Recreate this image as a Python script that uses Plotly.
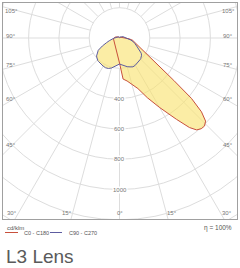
import numpy as np
import plotly.graph_objects as go

# ---------------- data (cd/klm) ----------------
gamma = [0, 3, 5, 10, 15, 20, 25, 30, 35, 38, 40, 42, 44, 46, 48, 50, 52, 55,
         60, 65, 70, 75, 80, 85, 90, 100, 110, 120, 135, 150, 165, 180]
c0 = [165, 220, 272, 288, 315, 355, 435, 530, 655, 750, 792, 806, 808, 790, 728, 620, 455, 315,
      205, 157, 127, 105, 88, 65, 40, 28, 18, 10, 4, 0, 0, 0]
c180 = [165, 142, 128, 100, 85, 72, 64, 58, 53, 51, 50, 49, 48, 47, 46, 45, 44, 43,
        42, 41, 40, 40, 40, 40, 38, 30, 22, 15, 8, 2, 0, 0]
c90 = [172, 175, 178, 188, 196, 203, 210, 208, 204, 202, 200, 199, 197, 195, 193, 190, 185, 175,
       150, 125, 108, 94, 75, 55, 42, 34, 25, 16, 8, 3, 0, 0]
c270 = [172, 176, 180, 192, 205, 214, 217, 215, 212, 210, 209, 208, 207, 205, 200, 196, 192, 184,
        162, 125, 92, 70, 55, 42, 32, 24, 18, 14, 11, 5, 1, 0]

ring_values = [200, 400, 600, 800, 1000, 1200, 1400]
ring_labels = [400, 600, 800, 1000]
spoke_angles = list(range(0, 181, 15))
side_labels = [105, 90, 75, 60, 45]
bottom_labels = [30, 15, 0]
title = "L3 Lens"
legend_names = ["C0 - C180", "C90 - C270"]

# ---------------- geometry helpers ----------------
W, H = 240, 268
ML, MR, MT, MB = 3, 3, 3, 49
PX0, PX1, PY0, PY1 = ML, W - MR, MT, H - MB
CX, CY = 119.5, 38.0          # pole position in pixels
K = 30.3 / 200.0              # pixels per cd/klm

xr = [(PX0 - CX) / K, (PX1 - CX) / K]
yr = [-(PY1 - CY) / K, (CY - PY0) / K]


def loop(right, left):
    g = np.radians(np.array(gamma, float))
    r_r = np.array(right, float)
    r_l = np.array(left, float)
    x = np.concatenate([r_r * np.sin(g), (-r_l * np.sin(g))[::-1]])
    y = np.concatenate([-r_r * np.cos(g), (-r_l * np.cos(g))[::-1]])
    return list(x), list(y)


def px2paper(px, py):
    return (px - PX0) / (PX1 - PX0), (PY1 - py) / (PY1 - PY0)


red = "#c8503c"
blue = "#5d5ca0"
grid = "#dddddd"
fill = "rgba(248,226,110,0.62)"

xa, ya = loop(c0, c180)
xb, yb = loop(c90, c270)

fig = go.Figure()
# single fill trace (union of both shapes)
fig.add_trace(go.Scatter(x=xa + [None] + xb, y=ya + [None] + yb, mode="lines",
                         line=dict(width=0, color=fill), fill="toself", fillcolor=fill,
                         hoverinfo="skip", showlegend=False))
fig.add_trace(go.Scatter(x=xa, y=ya, mode="lines", line=dict(color=red, width=1),
                         name=legend_names[0], showlegend=False))
fig.add_trace(go.Scatter(x=xb, y=yb, mode="lines", line=dict(color=blue, width=1),
                         name=legend_names[1], showlegend=False))

shapes = []
for r in ring_values:
    shapes.append(dict(type="circle", xref="x", yref="y", x0=-r, y0=-r, x1=r, y1=r,
                       line=dict(color=grid, width=1), layer="below"))
R0, R1 = ring_values[0], 3000
for a in spoke_angles:
    t = np.radians(a)
    for s in (1, -1):
        if a in (0, 180) and s == -1:
            continue
        shapes.append(dict(type="line", xref="x", yref="y",
                           x0=s * R0 * np.sin(t), y0=-R0 * np.cos(t),
                           x1=s * R1 * np.sin(t), y1=-R1 * np.cos(t),
                           line=dict(color=grid, width=1), layer="below"))

ann = []
lab_font = dict(family="Liberation Sans, Arial, sans-serif", size=6, color="#777777")
for v in ring_labels:
    ann.append(dict(x=0, y=-v, xref="x", yref="y", text=str(v), showarrow=False,
                    font=lab_font, bgcolor="white", borderpad=0))

# angle labels: placed along the spoke direction near the frame
HW = 108.5 / K   # half width of label rectangle (cd)
HB = 175.0 / K   # depth of label rectangle (cd)
for a in side_labels:
    t = np.radians(a)
    for s in (1, -1):
        yy = -HW / np.tan(t)
        ann.append(dict(x=s * HW, y=yy, xref="x", yref="y", text=f"{a}°", showarrow=False,
                        font=lab_font, yshift=2 if a != 105 else -2))
for a in bottom_labels:
    t = np.radians(a)
    for s in ((1, -1) if a else (1,)):
        ann.append(dict(x=s * HB * np.tan(t), y=-HB, xref="x", yref="y", text=f"{a}°",
                        showarrow=False, font=lab_font, xshift=s * 6 if a else 0))

small = dict(family="Liberation Sans, Arial, sans-serif", size=6, color="#555555")
x, y = px2paper(5, 227.5)
ann.append(dict(x=x, y=y, xref="paper", yref="paper", text="cd/klm", showarrow=False,
                xanchor="left", yanchor="middle", font=small))
x, y = px2paper(234, 228)
ann.append(dict(x=x, y=y, xref="paper", yref="paper", text="η = 100%", showarrow=False,
                xanchor="right", yanchor="middle",
                font=dict(family="Liberation Sans, Arial, sans-serif", size=6.5, color="#555555")))

for (lx0, lx1, tx), col, name in zip([(5, 18, 21.5), (50, 62, 67)], [red, blue], legend_names):
    a0, b0 = px2paper(lx0, 232.5)
    a1, _ = px2paper(lx1, 232.5)
    shapes.append(dict(type="line", xref="paper", yref="paper", x0=a0, x1=a1, y0=b0, y1=b0,
                       line=dict(color=col, width=1)))
    tx_, ty_ = px2paper(tx, 232.5)
    ann.append(dict(x=tx_, y=ty_, xref="paper", yref="paper", text=name, showarrow=False,
                    xanchor="left", yanchor="middle",
                    font=dict(family="Liberation Sans, Arial, sans-serif", size=5.5, color="#555555")))

x, y = px2paper(3.5, 256)
ann.append(dict(x=x, y=y, xref="paper", yref="paper", text=title, showarrow=False,
                xanchor="left", yanchor="middle",
                font=dict(family="Liberation Sans, Arial, sans-serif", size=19, color="#5a5a5a")))

axis = dict(showgrid=False, zeroline=False, showticklabels=False, ticks="",
            showline=True, mirror=True, linecolor="#a0a0a0", linewidth=1, fixedrange=True)
fig.update_layout(
    width=W, height=H, margin=dict(l=ML, r=MR, t=MT, b=MB, pad=0),
    paper_bgcolor="white", plot_bgcolor="white",
    xaxis=dict(range=xr, **axis), yaxis=dict(range=yr, **axis),
    shapes=shapes, annotations=ann, showlegend=False,
)
fig.write_html("out.html")
